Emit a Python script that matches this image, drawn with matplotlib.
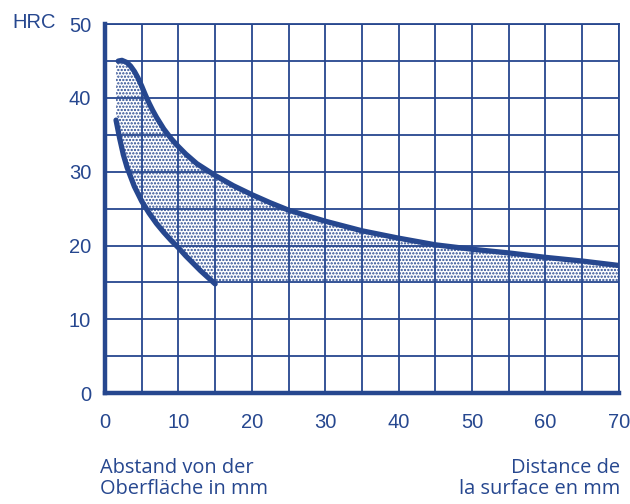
import matplotlib.pyplot as plt

blue = '#26478f'

# upper limit of the band
upper_x = [1.8, 2.3, 3, 3.5, 4, 4.5, 5, 5.5, 6, 6.5, 7, 8, 9, 10, 11, 12.5, 15, 17.5, 20, 22.5, 25,
           30, 35, 40, 45, 50, 55, 60, 65, 70]
upper_y = [45, 45.1, 44.8, 44.3, 43.6, 42.7, 41.6, 40.4, 39.3, 38.3, 37.4, 35.8, 34.5, 33.4, 32.4, 31.1, 29.5,
           28.1, 26.9, 25.8, 24.8, 23.3, 22, 21, 20.1, 19.5, 19, 18.4, 17.9, 17.3]
# lower limit of the band
lower_x = [1.5, 2, 2.5, 3, 4, 5, 6, 7, 8, 9, 10, 11, 12, 13, 14, 15]
lower_y = [37, 34.5, 32.3, 30.6, 28, 26, 24.4, 23, 21.8, 20.7, 19.7, 18.6, 17.6, 16.6, 15.7, 14.8]
band_floor = 15

x_ticks = [0, 10, 20, 30, 40, 50, 60, 70]
y_ticks = [0, 10, 20, 30, 40, 50]

plt.rcParams['hatch.linewidth'] = 1.1
fig = plt.figure(figsize=(6.3, 5.04), dpi=100)
ax = fig.add_axes([0.1667, 0.22, 0.8157, 0.732])

# stippled band
poly_x = [lower_x[0]] + upper_x + [upper_x[-1], lower_x[-1]] + lower_x[::-1]
poly_y = [upper_y[0]] + upper_y + [band_floor, band_floor] + lower_y[::-1]
ax.fill(poly_x, poly_y, facecolor='white', edgecolor=blue, hatch='.....', linewidth=0, zorder=0.5)

ax.plot(upper_x, upper_y, color=blue, lw=3.8, solid_capstyle='round', solid_joinstyle='round', zorder=3)
ax.plot(lower_x, lower_y, color=blue, lw=3.8, solid_capstyle='round', solid_joinstyle='round', zorder=3)

ax.set_xlim(0, 70)
ax.set_ylim(0, 50)
ax.set_xticks(x_ticks)
ax.set_yticks(y_ticks)
ax.set_xticks(range(5, 70, 10), minor=True)
ax.set_yticks(range(5, 50, 10), minor=True)
ax.grid(which='both', color=blue, lw=1.3, zorder=1)
ax.set_axisbelow(False)
ax.tick_params(which='both', length=0, colors=blue, labelsize=14.5)
ax.tick_params(axis='x', pad=14)
ax.tick_params(axis='y', pad=10)
for lab in ax.get_xticklabels() + ax.get_yticklabels():
    lab.set_family('Liberation Sans')

for side in ['left', 'bottom']:
    ax.spines[side].set_color(blue)
    ax.spines[side].set_linewidth(3.2)
for side in ['right', 'top']:
    ax.spines[side].set_color(blue)
    ax.spines[side].set_linewidth(1.3)

fig.text(0.019, 0.955, 'HRC', color=blue, fontsize=14.5, family='Liberation Sans', va='center')
fig.text(0.158, 0.091, 'Abstand von der\nOberfläche in mm', color=blue, fontsize=14.4,
         family='Open Sans', va='top', ha='left', linespacing=1.05)
fig.text(0.985, 0.091, 'Distance de\nla surface en mm', color=blue, fontsize=14.4,
         family='Open Sans', va='top', ha='right', linespacing=1.05, multialignment='right')

fig.savefig('out.png', dpi=100)
